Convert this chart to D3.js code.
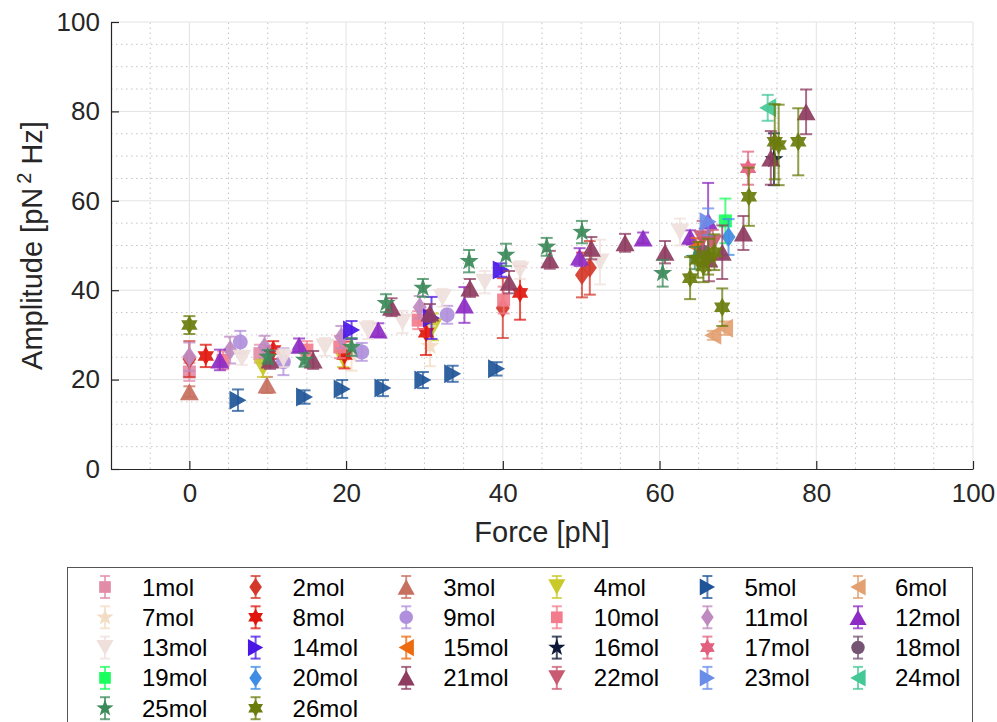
<!DOCTYPE html>
<html>
<head>
<meta charset="utf-8">
<script src="https://cdn.jsdelivr.net/npm/d3@7"></script>
<style>
  body { margin: 0; background: #fff; }
  svg { display: block; font-family: "Liberation Sans", Arial, Helvetica, sans-serif; }
</style>
</head>
<body>
<svg id="chart" width="997" height="722"></svg>
<script>
// ---- data: one entry per molecule (force in pN, amplitude and its error in pN^2 Hz) ----
const seriesNames = ["1mol","2mol","3mol","4mol","5mol","6mol","7mol","8mol","9mol","10mol",
  "11mol","12mol","13mol","14mol","15mol","16mol","17mol","18mol","19mol","20mol",
  "21mol","22mol","23mol","24mol","25mol","26mol"];

const force = [
  [0, 9],
  [0, 40, 50.1, 51.1],
  [0, 9.9],
  [9.4, 19.6, 31.1],
  [6.2, 14.7, 19.5, 24.7, 29.8, 33.6, 39.2],
  [66.8, 68.3],
  [20.7, 30.7],
  [2.1, 10.7, 19.8, 30.2, 42.2],
  [6.5, 12, 22, 32.9],
  [4.3, 15, 19.2, 29.2, 40.1],
  [0, 5.2, 9.6, 19.4, 29.4],
  [3.9, 14, 24.1, 35.1, 49.8, 57.9, 63.9, 66.2],
  [6.7, 12, 17.3, 22.8, 27.2, 32.3, 37.7, 42.2, 52.4, 62.6],
  [20.7, 30.9, 39.8],
  [64.7],
  [74.6],
  [71.3],
  [65.6],
  [68.4],
  [68.8],
  [10.3, 15.8, 25.8, 30.7, 35.8, 40.8, 46, 51.3, 55.6, 60.7, 66.3, 68, 70.7, 74.2, 78.7],
  [65.5, 66.8],
  [66.2],
  [73.8],
  [10, 14.7, 20.7, 25.1, 29.8, 35.7, 40.4, 45.6, 50.1, 60.4, 64.5],
  [0, 63.9, 64.9, 65.6, 66.2, 67, 68, 71.4, 74.7, 75.2, 77.7]
];

const amplitude = [
  [21.7, 25.8],
  [24.6, 36, 43.4, 45],
  [17.3, 18.8],
  [22.6, 24.8, 31.8],
  [15.4, 16.1, 17.9, 18.1, 19.9, 21.3, 22.4],
  [29.9, 31.5],
  [25.5, 27.5],
  [25.3, 26.6, 25.5, 30.5, 39.4],
  [28.4, 24, 26.2, 34.5],
  [24.3, 26.6, 27.3, 33.3, 37.8],
  [25.1, 26.6, 27.3, 29.5, 36.2],
  [24.4, 27.7, 31.1, 36.7, 47.4, 51.7, 51.9, 55.5],
  [24.8, 24.8, 27.3, 31.1, 32.9, 38.3, 41.8, 44.5, 46.3, 53],
  [31.1, 33.8, 44.5],
  [49.7],
  [69.3],
  [67.3],
  [48.5],
  [55.5],
  [51.9],
  [24.4, 24.4, 36.2, 34.9, 40.5, 41.8, 46.8, 49.4, 50.6, 48.5, 47, 48.5, 52.8, 69.6, 79.9],
  [51.5, 50.5],
  [55.3],
  [80.8],
  [25.1, 24.4, 27.3, 37.1, 40.5, 46.5, 47.9, 49.7, 53, 43.8, 47.2],
  [32.2, 42.7, 46.8, 45.3, 47.5, 48.5, 36.2, 60.9, 73.2, 72.5, 73.2]
];

const errorSize = [
  [2, 2],
  [4, 6.7, 5, 6],
  [1.2, 1.8],
  [2, 2, 3],
  [2.4, 1.5, 2, 1.8, 1.8, 1.8, 1.5],
  [1, 1.5],
  [3.5, 4.5],
  [2.5, 2, 3, 5, 6],
  [2.5, 3, 2, 2],
  [2, 2, 2.5, 2, 3],
  [3.2, 3, 2.5, 2.5, 2.5],
  [2.3, 1.5, 1.5, 4, 2, 1.2, 1.5, 8.5],
  [1.5, 2, 2, 2, 2.5, 2, 2.5, 2, 5, 3],
  [2, 4.7, 1.5],
  [2],
  [5.8],
  [3.7],
  [3],
  [5],
  [4],
  [2, 2, 2, 2, 2, 2.5, 2, 2.5, 2, 2.5, 5, 6, 3.8, 6, 5],
  [4, 3],
  [3],
  [2.9],
  [1.5, 1.5, 2, 2, 2, 2.5, 2.5, 2, 2.5, 3, 2.5],
  [2, 4.7, 4, 3.5, 4, 4, 4.2, 6.5, 8.4, 9, 7.5]
];

const seriesColors = ["#e38ca8","#d4382a","#c7705f","#c9c92a","#1f5598","#e3a070","#f3dcc4","#e0160e","#b08fdc","#f37d8c",
  "#bf8ac0","#8e2bc4","#efe0dc","#4a16e6","#ee6a0e","#0e1838","#e2607e","#765474","#1aff5e","#3f8ce4",
  "#8e3c60","#c85a72","#6a8ee8","#44c896","#3c8a5a","#6a7c0c"];

// marker cycle: square, diamond, up, down, right, left, pentagram, hexagram, circle
const markerCycle = ["s","d","^","v",">","<","p","h","o"];

const xTicks = [0, 20, 40, 60, 80, 100];
const yTicks = [0, 20, 40, 60, 80, 100];

// ---- layout ----
const svg = d3.select("#chart");
const x = d3.scaleLinear().domain([-10, 100]).range([111, 973]);
const y = d3.scaleLinear().domain([0, 100]).range([469, 22]);

// ---- grid ----
const minorX = d3.range(-5, 100, 5).filter(v => v % 20 !== 0);
const minorY = d3.range(5, 100, 5).filter(v => v % 20 !== 0);
const grid = svg.append("g");
grid.selectAll("line.mx").data(minorX).join("line")
  .attr("x1", d => x(d)).attr("x2", d => x(d)).attr("y1", y(0)).attr("y2", y(100))
  .attr("stroke", "#c4c4c4").attr("stroke-width", 1).attr("stroke-dasharray", "1.5,3.5");
grid.selectAll("line.my").data(minorY).join("line")
  .attr("y1", d => y(d)).attr("y2", d => y(d)).attr("x1", x(-10)).attr("x2", x(100))
  .attr("stroke", "#c4c4c4").attr("stroke-width", 1).attr("stroke-dasharray", "1.5,3.5");
grid.selectAll("line.gx").data(xTicks).join("line")
  .attr("x1", d => x(d)).attr("x2", d => x(d)).attr("y1", y(0)).attr("y2", y(100))
  .attr("stroke", "#e3e3e3").attr("stroke-width", 1);
grid.selectAll("line.gy").data(yTicks.filter(v => v > 0)).join("line")
  .attr("y1", d => y(d)).attr("y2", d => y(d)).attr("x1", x(-10)).attr("x2", x(100))
  .attr("stroke", "#e3e3e3").attr("stroke-width", 1);

// ---- axes ----
const axisColor = "#262626";
const xAxis = svg.append("g").attr("transform", `translate(0,${y(0)})`)
  .call(d3.axisBottom(x).tickValues(xTicks).tickSizeInner(-8).tickSizeOuter(0).tickPadding(15));
const yAxis = svg.append("g").attr("transform", `translate(${x(-10)},0)`)
  .call(d3.axisLeft(y).tickValues(yTicks).tickSizeInner(-8).tickSizeOuter(0).tickPadding(11));
[xAxis, yAxis].forEach(g => {
  g.select(".domain").attr("stroke", axisColor).attr("stroke-width", 1.2);
  g.selectAll(".tick line").attr("stroke", axisColor).attr("stroke-width", 1.2);
  g.selectAll(".tick text").attr("fill", axisColor).attr("font-size", 26)
    .attr("font-family", "Liberation Sans, Arial, sans-serif");
});

svg.append("text").attr("x", (x(-10) + x(100)) / 2).attr("y", 542)
  .attr("text-anchor", "middle").attr("font-size", 29).attr("fill", axisColor)
  .text("Force [pN]");

const yl = svg.append("text")
  .attr("transform", `translate(42,${(y(0) + y(100)) / 2}) rotate(-90)`)
  .attr("text-anchor", "middle").attr("font-size", 29).attr("fill", axisColor);
yl.append("tspan").text("Amplitude [pN");
yl.append("tspan").attr("dx", 4).attr("dy", -11).attr("font-size", 20).text("2");
yl.append("tspan").attr("dy", 11).text(" Hz]");

// ---- marker shapes ----
function starPath(points, outer, inner) {
  const pts = [];
  for (let i = 0; i < points * 2; i++) {
    const r = i % 2 === 0 ? outer : inner;
    const a = -Math.PI / 2 + i * Math.PI / points;
    pts.push([r * Math.cos(a), r * Math.sin(a)]);
  }
  return "M" + pts.map(p => p[0].toFixed(2) + "," + p[1].toFixed(2)).join("L") + "Z";
}
function markerPath(type, k) {
  const s = v => (v * k).toFixed(2);
  switch (type) {
    case "s": return `M${s(-6.5)},${s(-6.5)}h${s(13)}v${s(13)}h${s(-13)}Z`;
    case "d": return `M0,${s(-10)}L${s(7)},0L0,${s(10)}L${s(-7)},0Z`;
    case "^": return `M0,${s(-8.5)}L${s(9.5)},${s(8.5)}L${s(-9.5)},${s(8.5)}Z`;
    case "v": return `M0,${s(8.5)}L${s(9.5)},${s(-8.5)}L${s(-9.5)},${s(-8.5)}Z`;
    case ">": return `M${s(8.5)},0L${s(-8.5)},${s(-9.5)}L${s(-8.5)},${s(9.5)}Z`;
    case "<": return `M${s(-8.5)},0L${s(8.5)},${s(-9.5)}L${s(8.5)},${s(9.5)}Z`;
    case "p": return starPath(5, 10 * k, 4 * k);
    case "h": return starPath(6, 9.5 * k, 5.5 * k);
    case "o": {
      const r = 7.5 * k;
      return `M${r},0A${r},${r} 0 1,1 ${-r},0A${r},${r} 0 1,1 ${r},0Z`;
    }
  }
}

// ---- series: error bars with caps, then markers ----
const capHalf = 6;
const plot = svg.append("g");
seriesNames.forEach((name, i) => {
  const color = seriesColors[i];
  const pts = force[i].map((f, j) => ({ f, a: amplitude[i][j], e: errorSize[i][j] }));
  const g = plot.append("g");
  const bars = g.selectAll("g.bar").data(pts).join("g")
    .attr("stroke", color).attr("stroke-opacity", 0.75).attr("stroke-width", 2);
  bars.append("line")
    .attr("x1", d => x(d.f)).attr("x2", d => x(d.f))
    .attr("y1", d => y(d.a - d.e)).attr("y2", d => y(d.a + d.e));
  bars.append("line")
    .attr("x1", d => x(d.f) - capHalf).attr("x2", d => x(d.f) + capHalf)
    .attr("y1", d => y(d.a + d.e)).attr("y2", d => y(d.a + d.e));
  bars.append("line")
    .attr("x1", d => x(d.f) - capHalf).attr("x2", d => x(d.f) + capHalf)
    .attr("y1", d => y(d.a - d.e)).attr("y2", d => y(d.a - d.e));
  g.selectAll("path.mk").data(pts).join("path")
    .attr("d", markerPath(markerCycle[i % 9], 1))
    .attr("transform", d => `translate(${x(d.f)},${y(d.a)})`)
    .attr("fill", color).attr("fill-opacity", 0.92);
});

// ---- legend ----
const legend = svg.append("g");
legend.append("rect").attr("x", 67.5).attr("y", 567.5).attr("width", 905).attr("height", 200)
  .attr("fill", "#fff").attr("stroke", "#555").attr("stroke-width", 1);
const colStep = 150.6, rowStep = 30.3;
seriesNames.forEach((name, i) => {
  const col = i % 6, row = Math.floor(i / 6);
  const mx = 105 + col * colStep, my = 587 + row * rowStep;
  const color = seriesColors[i];
  const item = legend.append("g");
  const eb = item.append("g").attr("stroke", color).attr("stroke-opacity", 0.75).attr("stroke-width", 2);
  eb.append("line").attr("x1", mx).attr("x2", mx).attr("y1", my - 11).attr("y2", my + 11);
  eb.append("line").attr("x1", mx - 5).attr("x2", mx + 5).attr("y1", my - 11).attr("y2", my - 11);
  eb.append("line").attr("x1", mx - 5).attr("x2", mx + 5).attr("y1", my + 11).attr("y2", my + 11);
  item.append("path").attr("d", markerPath(markerCycle[i % 9], 0.9))
    .attr("transform", `translate(${mx},${my})`).attr("fill", color);
  item.append("text").attr("x", mx + 37).attr("y", my + 8.5)
    .attr("font-size", 24).attr("fill", "#000").text(name);
});
</script>
</body>
</html>
